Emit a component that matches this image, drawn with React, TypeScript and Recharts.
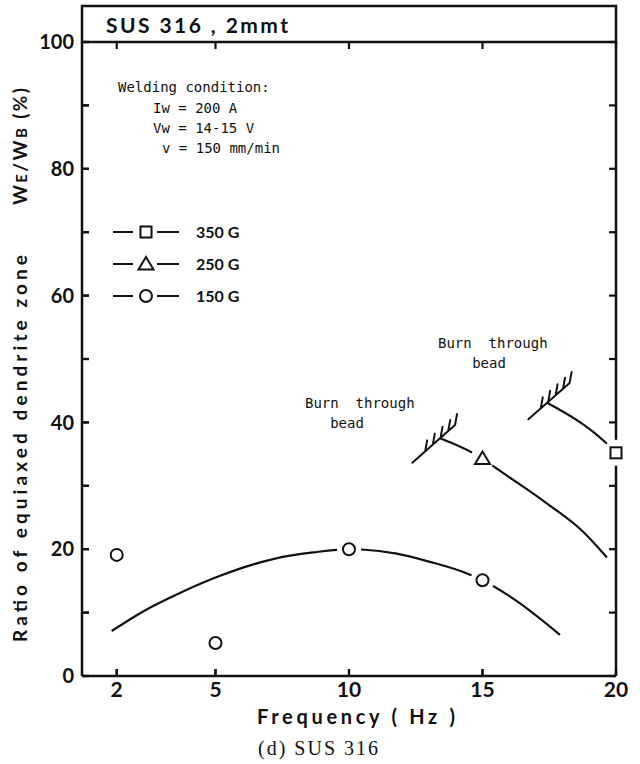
import React from 'react';
import { ComposedChart, Line, Scatter, XAxis, YAxis } from 'recharts';

// ---- axis ticks ----
const FREQ_TICKS = [2, 5, 10, 15, 20];
const Y_LABEL_STEP = 20;
const Y_TICKS = [0, 10, 20, 30, 40, 50, 60, 70, 80, 90, 100];
const X_MIN = 0;
const X_MAX = 20;
const Y_MIN = 0;
const Y_MAX = 100;

// ---- measured points (frequency Hz, ratio %) ----
const G150_FREQ = [2, 5, 10, 15];
const G150_VAL = [19.1, 5.2, 20.0, 15.1];
const G250_FREQ = [15];
const G250_VAL = [34.3];
const G350_FREQ = [20];
const G350_VAL = [35.2];

// ---- trend curves ----
const FIT150_FREQ = [1.71, 2.91, 3.92, 5.17, 6.42, 7.67, 8.66, 10, 10.47, 11.79, 13.03, 14.28, 15, 16.15, 17.9];
const FIT150_VAL = [7.1, 10.5, 13.1, 15.8, 17.6, 18.9, 19.5, 20.0, 19.95, 19.3, 18.0, 16.4, 15.1, 12.2, 6.5];
const FIT250_FREQ = [13.41, 15, 15.47, 17.42, 18.76, 19.66];
const FIT250_VAL = [37.5, 34.3, 32.9, 27.2, 22.8, 18.7];
const FIT350_FREQ = [17.42, 19.59, 20];
const FIT350_VAL = [43.1, 36.9, 35.2];

// ---- burn-through limits ----
const BURN250_FREQ = [13.41];
const BURN250_VAL = [37.5];
const BURN350_FREQ = [17.42];
const BURN350_VAL = [43.1];

// The printed frequency axis is not uniform below 5 Hz: map frequency to axis position.
const xPos = (f: number) => {
  if (f >= 5) return f;
  if (f >= 2) return 1.3 + ((f - 2) * (5 - 1.3)) / 3;
  return (f * 1.3) / 2;
};
const rows = (fs: number[], vs: number[]) => fs.map((f, i) => ({ x: xPos(f), v: vs[i] }));

const TICK_POS = FREQ_TICKS.map(xPos);
const xTickLabel = (p: number) => {
  const i = TICK_POS.findIndex((t) => Math.abs(t - p) < 1e-6);
  return i >= 0 ? String(FREQ_TICKS[i]) : '';
};
const yTickLabel = (v: number) => (v % Y_LABEL_STEP === 0 ? String(v) : '');

// inward tick marks on the frame, placed through the chart scales
const LEFT_TICK_ROWS = Y_TICKS.map((v) => ({ x: X_MIN, v }));
const BOTTOM_TICK_ROWS = TICK_POS.map((x) => ({ x, v: Y_MIN }));
const TOP_TICK_ROWS = TICK_POS.map((x) => ({ x, v: Y_MAX }));

const INK = '#111111';
const SANS = "'Lato', 'DejaVu Sans', sans-serif";
const MONO = "'DejaVu Sans Mono', 'Liberation Mono', monospace";
const TICK_LEN = 7;

const TickRight = (p: any) => (
  <path d={`M${p.cx},${p.cy} L${p.cx + TICK_LEN},${p.cy}`} stroke={INK} strokeWidth={2.2} fill="none" />
);
const TickUp = (p: any) => (
  <path d={`M${p.cx},${p.cy} L${p.cx},${p.cy - TICK_LEN}`} stroke={INK} strokeWidth={2.2} fill="none" />
);
const TickDown = (p: any) => (
  <path d={`M${p.cx},${p.cy} L${p.cx},${p.cy + TICK_LEN}`} stroke={INK} strokeWidth={2.2} fill="none" />
);
const NoLabel = () => <g />;

const CircleMark = (p: any) => (
  <g>
    <circle cx={p.cx} cy={p.cy} r={12} fill="#fff" />
    <circle cx={p.cx} cy={p.cy} r={6} fill="#fff" stroke={INK} strokeWidth={2} />
  </g>
);
const TriangleMark = (p: any) => (
  <g>
    <circle cx={p.cx} cy={p.cy} r={12} fill="#fff" />
    <path
      d={`M${p.cx},${p.cy - 7} L${p.cx + 7.5},${p.cy + 5.5} L${p.cx - 7.5},${p.cy + 5.5} Z`}
      fill="#fff"
      stroke={INK}
      strokeWidth={2}
      strokeLinejoin="miter"
    />
  </g>
);
const SquareMark = (p: any) => (
  <g>
    <circle cx={p.cx} cy={p.cy} r={13} fill="#fff" />
    <rect x={p.cx - 5.5} y={p.cy - 5.5} width={11} height={11} fill="#fff" stroke={INK} strokeWidth={2} />
  </g>
);

// hatched limit line ("burn through") attached to the end of a curve
const makeHatch = (back: number, fwd: number) => (p: any) => {
  const ux = 0.75;
  const uy = -0.66;
  const x0 = p.cx - ux * back;
  const y0 = p.cy - uy * back;
  const x1 = p.cx + ux * fwd;
  const y1 = p.cy + uy * fwd;
  const len = back + fwd;
  const strokes = [0.3, 0.48, 0.66, 0.84, 1].map((t) => {
    const bx = x0 + ux * len * t;
    const by = y0 + uy * len * t;
    return `M${bx},${by} L${bx + 2},${by - 11}`;
  });
  return (
    <path
      d={`M${x0},${y0} L${x1},${y1} ${strokes.join(' ')}`}
      fill="none"
      stroke={INK}
      strokeWidth={2}
      strokeLinecap="round"
    />
  );
};
const Hatch250 = makeHatch(37, 20);
const Hatch350 = makeHatch(25, 30);

const LEGEND = [
  { label: '350 G', mark: SquareMark },
  { label: '250 G', mark: TriangleMark },
  { label: '150 G', mark: CircleMark },
];

export default function App() {
  return (
    <div style={{ position: 'absolute', left: 0, top: 0, background: '#fff' }}>
      <ComposedChart width={640} height={764} margin={{ top: 42, right: 24, bottom: 58, left: 22 }}>
        {/* bottom axis: ticks point into the plot, labels below */}
        <XAxis
          type="number"
          dataKey="x"
          domain={[X_MIN, X_MAX]}
          ticks={TICK_POS}
          tickFormatter={xTickLabel}
          height={30}
          tickSize={-TICK_LEN}
          tickMargin={TICK_LEN + 6}
          tickLine={{ stroke: INK, strokeWidth: 2.2 }}
          axisLine={{ stroke: INK, strokeWidth: 2.5 }}
          tick={{ fill: INK, fontSize: 21, fontFamily: SANS, fontWeight: 700 }}
        />
        {/* left axis: ticks every 10 point into the plot, labels every 20 */}
        <YAxis
          type="number"
          dataKey="v"
          domain={[Y_MIN, Y_MAX]}
          ticks={Y_TICKS}
          tickFormatter={yTickLabel}
          width={60}
          tickSize={-TICK_LEN}
          tickMargin={TICK_LEN + 8}
          tickLine={{ stroke: INK, strokeWidth: 2.2 }}
          axisLine={{ stroke: INK, strokeWidth: 2.5 }}
          tick={{ fill: INK, fontSize: 20, fontFamily: SANS, fontWeight: 700 }}
        />
        {/* right frame with inward ticks */}
        <YAxis yAxisId="rt" type="number" orientation="right" mirror domain={[Y_MIN, Y_MAX]} allowDataOverflow ticks={Y_TICKS} tick={NoLabel} axisLine={{ stroke: INK, strokeWidth: 2.5 }} tickSize={TICK_LEN} tickLine={{ stroke: INK, strokeWidth: 2.2 }} />

        <Line data={rows(FIT150_FREQ, FIT150_VAL)} dataKey="v" type="monotone" stroke={INK} strokeWidth={2.2} dot={false} isAnimationActive={false} />
        <Line data={rows(FIT250_FREQ, FIT250_VAL)} dataKey="v" type="monotone" stroke={INK} strokeWidth={2.2} dot={false} isAnimationActive={false} />
        <Line data={rows(FIT350_FREQ, FIT350_VAL)} dataKey="v" type="monotone" stroke={INK} strokeWidth={2.2} dot={false} isAnimationActive={false} />

        <Scatter data={rows(BURN250_FREQ, BURN250_VAL)} dataKey="v" shape={Hatch250} isAnimationActive={false} />
        <Scatter data={rows(BURN350_FREQ, BURN350_VAL)} dataKey="v" shape={Hatch350} isAnimationActive={false} />
        <Scatter data={rows(G150_FREQ, G150_VAL)} dataKey="v" shape={CircleMark} isAnimationActive={false} />
        <Scatter data={rows(G250_FREQ, G250_VAL)} dataKey="v" shape={TriangleMark} isAnimationActive={false} />
        <Scatter data={rows(G350_FREQ, G350_VAL)} dataKey="v" shape={SquareMark} isAnimationActive={false} />

        {/* inward ticks along the left, bottom and top frame */}
        <Scatter data={LEFT_TICK_ROWS} dataKey="v" shape={TickRight} isAnimationActive={false} />
        <Scatter data={BOTTOM_TICK_ROWS} dataKey="v" shape={TickUp} isAnimationActive={false} />
        <Scatter data={TOP_TICK_ROWS} dataKey="v" shape={TickDown} isAnimationActive={false} />

        {/* title box; its lower edge is the top frame of the plot */}
        <g>
          <path d="M82,42 L82,6 L616,6 L616,42 Z" fill="none" stroke={INK} strokeWidth={2.5} />
          <text x={106} y={33} fontFamily={SANS} fontWeight={700} fontSize={21} fill={INK} textLength={182} lengthAdjust="spacing" style={{ whiteSpace: 'pre' }}>
            SUS 316 , 2mmt
          </text>
        </g>

        {/* welding condition */}
        <g fontFamily={MONO} fontSize={14} fill={INK}>
          <text x={118} y={92}>Welding condition:</text>
          <text x={153} y={113} style={{ whiteSpace: 'pre' }}>Iw = 200 A</text>
          <text x={153} y={133} style={{ whiteSpace: 'pre' }}>Vw = 14-15 V</text>
          <text x={162} y={153} style={{ whiteSpace: 'pre' }}>v = 150 mm/min</text>
        </g>

        {/* legend */}
        <g>
          {LEGEND.map((it, i) => {
            const y = 232 + i * 32;
            const Mark = it.mark;
            return (
              <g key={it.label}>
                <Mark cx={146} cy={y} />
                <line x1={113} y1={y} x2={133} y2={y} stroke={INK} strokeWidth={2} />
                <line x1={157} y1={y} x2={179} y2={y} stroke={INK} strokeWidth={2} />
                <text x={196} y={y + 6} fontFamily={SANS} fontWeight={700} fontSize={16} fill={INK} style={{ whiteSpace: 'pre' }}>
                  {it.label}
                </text>
              </g>
            );
          })}
        </g>

        {/* burn-through annotations */}
        <g fontFamily={MONO} fontSize={14} fill={INK}>
          <text x={305} y={408} style={{ whiteSpace: 'pre' }}>Burn  through</text>
          <text x={347} y={428} textAnchor="middle">bead</text>
          <text x={438} y={348} style={{ whiteSpace: 'pre' }}>Burn  through</text>
          <text x={489} y={368} textAnchor="middle">bead</text>
        </g>

        {/* axis titles */}
        <g fontFamily={SANS} fontWeight={700} fill={INK}>
          <text transform="rotate(-90)" x={-642} y={27} fontSize={19} textLength={387} lengthAdjust="spacing">
            Ratio of equiaxed dendrite zone
          </text>
          <text transform="rotate(-90)" x={-205} y={27} fontSize={19} textLength={117} lengthAdjust="spacing" style={{ whiteSpace: 'pre' }}>
            W<tspan fontSize={15}>E</tspan>/W<tspan fontSize={15}>B</tspan> (%)
          </text>
          <text x={257} y={724} fontSize={20} textLength={198} lengthAdjust="spacing" style={{ whiteSpace: 'pre' }}>
            Frequency ( Hz )
          </text>
        </g>
        <text x={258} y={755} fontFamily="'Liberation Serif', 'Times New Roman', serif" fontSize={20} fill={INK} textLength={120} lengthAdjust="spacing" style={{ whiteSpace: 'pre' }}>
          (d) SUS 316
        </text>
      </ComposedChart>
    </div>
  );
}
